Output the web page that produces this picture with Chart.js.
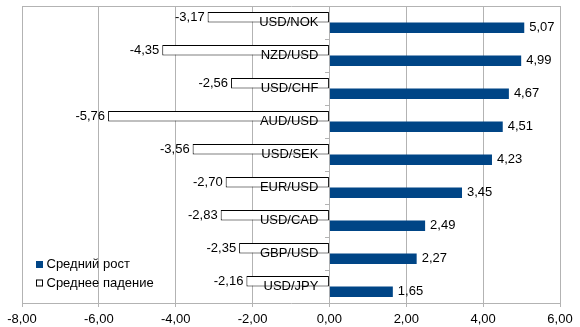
<!DOCTYPE html>
<html>
<head>
<meta charset="utf-8">
<script src="https://cdn.jsdelivr.net/npm/chart.js@4.4.1/dist/chart.umd.min.js"></script>
<style>
  html, body { margin: 0; padding: 0; background: #fff; }
  canvas { display: block; }
</style>
</head>
<body>
<canvas id="chart" width="580" height="327"></canvas>
<script>
'use strict';

var pairs = ['USD/NOK', 'NZD/USD', 'USD/CHF', 'AUD/USD', 'USD/SEK', 'EUR/USD', 'USD/CAD', 'GBP/USD', 'USD/JPY'];
var avgRise = [5.07, 4.99, 4.67, 4.51, 4.23, 3.45, 2.49, 2.27, 1.65];
var avgFall = [-3.17, -4.35, -2.56, -5.76, -3.56, -2.70, -2.83, -2.35, -2.16];
var riseLabel = 'Средний рост';
var fallLabel = 'Среднее падение';

var gridColor = '#b3b3b3';
var riseColor = '#004586';
var font13 = "13px 'Liberation Sans', Arial, sans-serif";

Chart.defaults.font.family = "'Liberation Sans', Arial, sans-serif";
Chart.defaults.font.size = 13;
Chart.defaults.color = '#000';

function fmt(v) {
  return v.toFixed(2).replace('.', ',');
}

// category names sit just left of the zero line, over the bars
var pairLabels = {
  id: 'pairLabels',
  afterDatasetsDraw: function(chart) {
    var ctx = chart.ctx;
    var yScale = chart.scales.y;
    var x0 = chart.scales.x.getPixelForValue(0);
    ctx.save();
    ctx.font = font13;
    ctx.fillStyle = '#000';
    ctx.textAlign = 'right';
    ctx.textBaseline = 'middle';
    chart.data.labels.forEach(function(lbl, i) {
      ctx.fillText(lbl, x0 - 11, yScale.getPixelForValue(i));
    });
    ctx.restore();
  }
};

// value labels next to the bar ends
var valueLabels = {
  id: 'valueLabels',
  afterDatasetsDraw: function(chart) {
    var ctx = chart.ctx;
    ctx.save();
    ctx.font = font13;
    ctx.fillStyle = '#000';
    ctx.textBaseline = 'middle';
    chart.data.datasets.forEach(function(ds, i) {
      var meta = chart.getDatasetMeta(i);
      meta.data.forEach(function(bar, j) {
        var v = ds.data[j];
        if (v < 0) {
          ctx.textAlign = 'right';
          ctx.fillText(fmt(v), bar.x - 3, bar.y);
        } else {
          ctx.textAlign = 'left';
          ctx.fillText(fmt(v), bar.x + 5, bar.y);
        }
      });
    });
    ctx.restore();
  }
};

// legend sits inside the plot, lower left
var innerLegend = {
  id: 'innerLegend',
  afterDraw: function(chart) {
    var ctx = chart.ctx;
    var x = chart.chartArea.left + 14;
    var y = 264.5;
    var items = [chart.data.datasets[1], chart.data.datasets[0]];
    ctx.save();
    ctx.font = font13;
    ctx.textBaseline = 'middle';
    ctx.textAlign = 'left';
    items.forEach(function(ds, k) {
      var yy = y + k * 18.5;
      ctx.fillStyle = ds.backgroundColor;
      ctx.fillRect(x, yy - 3.5, 7, 7);
      if (ds.borderWidth) {
        ctx.strokeStyle = ds.borderColor;
        ctx.lineWidth = 1;
        ctx.strokeRect(x + 0.5, yy - 3, 6, 6);
      }
      ctx.fillStyle = '#000';
      ctx.fillText(ds.label, x + 10.5, yy);
    });
    ctx.restore();
  }
};

var ctx = document.getElementById('chart').getContext('2d');
var chart = new Chart(ctx, {
  type: 'bar',
  data: {
    labels: pairs,
    datasets: [{
      label: fallLabel,
      data: avgFall,
      backgroundColor: '#ffffff',
      borderColor: '#000000',
      borderWidth: 1,
      borderSkipped: false
    }, {
      label: riseLabel,
      data: avgRise,
      backgroundColor: riseColor,
      borderWidth: 0
    }]
  },
  options: {
    responsive: false,
    animation: false,
    indexAxis: 'y',
    categoryPercentage: 0.64,
    barPercentage: 1,
    layout: {
      padding: { left: 22, right: 20, top: 6, bottom: 0 }
    },
    plugins: {
      legend: { display: false },
      tooltip: { enabled: false }
    },
    scales: {
      x: {
        min: -8,
        max: 6,
        ticks: {
          stepSize: 2,
          padding: 5,
          callback: function(v) { return fmt(v); }
        },
        grid: { color: gridColor, tickLength: 4 },
        border: { color: gridColor },
        afterFit: function(scale) { scale.height = 24; }
      },
      xTop: {
        type: 'linear',
        position: 'top',
        min: -8,
        max: 6,
        ticks: { display: false },
        grid: { display: false },
        border: { color: gridColor },
        afterFit: function(scale) { scale.height = 0; }
      },
      y: {
        position: { x: 0 },
        ticks: { display: false },
        grid: {
          drawOnChartArea: false,
          tickColor: gridColor,
          tickLength: 4
        },
        border: { display: false },
        afterFit: function(scale) {
          scale.paddingTop = 0;
          scale.paddingBottom = 0;
        }
      }
    }
  },
  plugins: [pairLabels, valueLabels, innerLegend]
});
</script>
</body>
</html>
